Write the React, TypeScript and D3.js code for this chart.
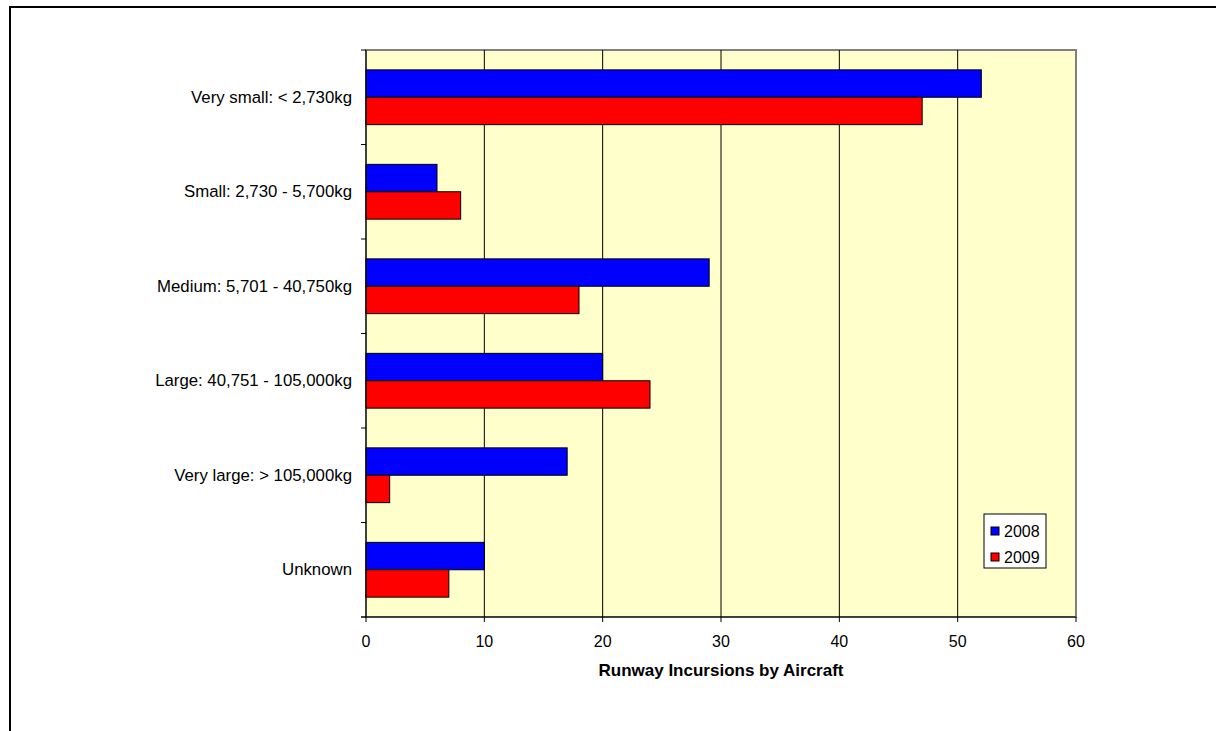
import React from "react";
import * as d3 from "d3";

const categories = [
  "Very small: < 2,730kg",
  "Small: 2,730 - 5,700kg",
  "Medium: 5,701 - 40,750kg",
  "Large: 40,751 - 105,000kg",
  "Very large: > 105,000kg",
  "Unknown",
];
const seriesNames = ["2008", "2009"];
const values2008 = [52, 6, 29, 20, 17, 10];
const values2009 = [47, 8, 18, 24, 2, 7];
const seriesColors = ["#0000FF", "#FF0000"];
const xTicks = [0, 10, 20, 30, 40, 50, 60];
const axisTitle = "Runway Incursions by Aircraft";

export default function App() {
  const W = 1216, H = 731;
  const left = 366, right = 1076, top = 50, bottom = 617;
  const x = d3.scaleLinear().domain([0, 60]).range([left, right]);
  const y = d3.scaleBand<string>().domain(categories).range([top, bottom]).paddingInner(0).paddingOuter(0);
  const groupFrac = 2 / 3.45;
  const bw = y.bandwidth();
  const inner = d3.scaleBand<string>().domain(seriesNames).range([(bw * (1 - groupFrac)) / 2, (bw * (1 + groupFrac)) / 2]);
  const series = [values2008, values2009];
  const font = "Liberation Sans, Arial, sans-serif";

  return (
    <svg width={W} height={H} style={{ position: "absolute", left: 0, top: 0 }}>
      <rect x={0} y={0} width={W} height={H} fill="#fff" />
      <rect x={10} y={7} width={W + 20} height={H + 20} fill="none" stroke="#000" strokeWidth={2} />
      <rect x={left} y={top} width={right - left} height={bottom - top} fill="#FFFFCC" stroke="#808080" strokeWidth={2} />
      {xTicks.slice(1, -1).map((t) => (
        <line key={t} x1={x(t)} x2={x(t)} y1={top} y2={bottom} stroke="#000" strokeWidth={1} />
      ))}
      {categories.map((c, i) =>
        series.map((vals, s) => (
          <rect
            key={c + s}
            x={x(0)}
            y={(y(c) as number) + (inner(seriesNames[s]) as number)}
            width={x(vals[i]) - x(0)}
            height={inner.bandwidth()}
            fill={seriesColors[s]}
            stroke="#000"
            strokeWidth={1}
          />
        ))
      )}
      {/* left axis */}
      <line x1={left} x2={left} y1={top} y2={bottom} stroke="#000" strokeWidth={1} />
      {d3.range(categories.length + 1).map((k) => {
        const yy = top + k * bw;
        return <line key={k} x1={left - 5} x2={left} y1={yy} y2={yy} stroke="#000" />;
      })}
      {categories.map((c) => (
        <text
          key={c}
          x={352}
          y={(y(c) as number) + bw / 2}
          textAnchor="end"
          dominantBaseline="central"
          fontFamily={font}
          fontSize={16.8}
          fill="#000"
        >
          {c}
        </text>
      ))}
      {/* bottom axis */}
      <line x1={left - 5} x2={right} y1={bottom} y2={bottom} stroke="#000" strokeWidth={1} />
      {xTicks.map((t) => (
        <g key={t}>
          <line x1={x(t)} x2={x(t)} y1={bottom} y2={bottom + 5} stroke="#000" />
          <text x={x(t)} y={641} textAnchor="middle" dominantBaseline="central" fontFamily={font} fontSize={16} fill="#000">
            {t}
          </text>
        </g>
      ))}
      <text x={(left + right) / 2} y={670} textAnchor="middle" dominantBaseline="central" fontFamily={font} fontSize={17} fontWeight="bold" fill="#000">
        {axisTitle}
      </text>
      {/* legend */}
      <rect x={984} y={514} width={62} height={54} fill="#fff" stroke="#000" strokeWidth={1} />
      {seriesNames.map((n, i) => (
        <g key={n}>
          <rect x={991} y={527 + i * 26} width={8} height={8} fill={seriesColors[i]} stroke="#000" strokeWidth={1} />
          <text x={1004} y={527 + i * 26 + 4} dominantBaseline="central" fontFamily={font} fontSize={16} fill="#000">
            {n}
          </text>
        </g>
      ))}
    </svg>
  );
}
